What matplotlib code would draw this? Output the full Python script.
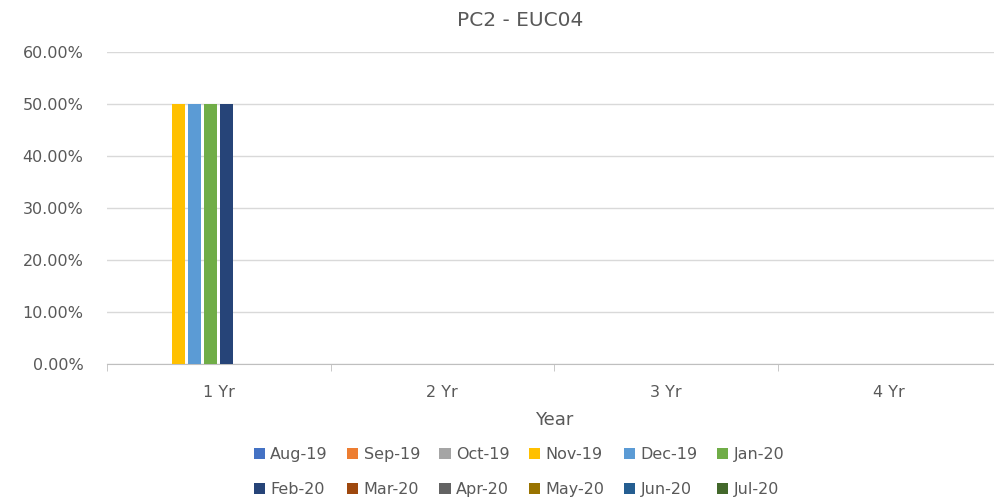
import numpy as np
import matplotlib.pyplot as plt
from matplotlib.ticker import PercentFormatter

# 1. Chart data (share per term, one series per month)
categories = ['1 Yr', '2 Yr', '3 Yr', '4 Yr']
months = ['Aug-19', 'Sep-19', 'Oct-19', 'Nov-19', 'Dec-19', 'Jan-20',
          'Feb-20', 'Mar-20', 'Apr-20', 'May-20', 'Jun-20', 'Jul-20']
aug_19 = [0, 0, 0, 0]
sep_19 = [0, 0, 0, 0]
oct_19 = [0, 0, 0, 0]
nov_19 = [50, 0, 0, 0]
dec_19 = [50, 0, 0, 0]
jan_20 = [50, 0, 0, 0]
feb_20 = [50, 0, 0, 0]
mar_20 = [0, 0, 0, 0]
apr_20 = [0, 0, 0, 0]
may_20 = [0, 0, 0, 0]
jun_20 = [0, 0, 0, 0]
jul_20 = [0, 0, 0, 0]
series = [aug_19, sep_19, oct_19, nov_19, dec_19, jan_20,
          feb_20, mar_20, apr_20, may_20, jun_20, jul_20]
colors = ['#4472C4', '#ED7D31', '#A5A5A5', '#FFC000', '#5B9BD5', '#70AD47',
          '#264478', '#9E480E', '#636363', '#997300', '#255E91', '#43682B']

# 2. Style
plt.rcParams['font.family'] = 'DejaVu Sans'
grey = '#595959'

# 3. Clustered columns
plt.figure(figsize=(9.94, 4.98), dpi=100)
ax = plt.axes([107 / 994, 134 / 498, 894 / 994, 312 / 498])
x = np.arange(len(categories))
step = 0.0725
for i, (name, vals) in enumerate(zip(months, series)):
    offset = (i - (len(months) - 1) / 2) * step
    plt.bar(x + offset, vals, width=0.058, color=colors[i], label=name, zorder=3)

plt.xlim(-0.5, 3.5)
plt.ylim(0, 60)
plt.yticks(np.arange(0, 61, 10))
ax.yaxis.set_major_formatter(PercentFormatter(decimals=2))
plt.xticks(x, categories)
ax.set_xticks(np.arange(-0.5, 4, 1), minor=True)
ax.tick_params(axis='x', which='major', length=0, pad=15, labelsize=11.5, labelcolor=grey)
ax.tick_params(axis='x', which='minor', length=5, color='#BFBFBF')
ax.tick_params(axis='y', length=0, pad=17, labelsize=11.5, labelcolor=grey)
plt.grid(axis='y', color='#D9D9D9', linewidth=1, zorder=0)
for side in ['left', 'right', 'top']:
    ax.spines[side].set_visible(False)
ax.spines['bottom'].set_color('#BFBFBF')

plt.xlabel('Year', fontsize=13, color=grey, labelpad=8)
plt.figtext(520 / 994, 1 - 21 / 498, 'PC2 - EUC04', ha='center', va='center',
            fontsize=14.5, color=grey)

# legend filled row by row, like the spreadsheet
handles, labels = ax.get_legend_handles_labels()
order = [i + 6 * r for i in range(6) for r in range(2)]
plt.figlegend([handles[k] for k in order], [labels[k] for k in order],
              loc='upper center', bbox_to_anchor=(519 / 994, 1 - 433 / 498), ncol=6,
              frameon=False, fontsize=11.5, handlelength=0.7, handleheight=0.7,
              handletextpad=0.35, columnspacing=1.2, labelspacing=1.25, labelcolor=grey)

plt.savefig('out.png', dpi=100)
